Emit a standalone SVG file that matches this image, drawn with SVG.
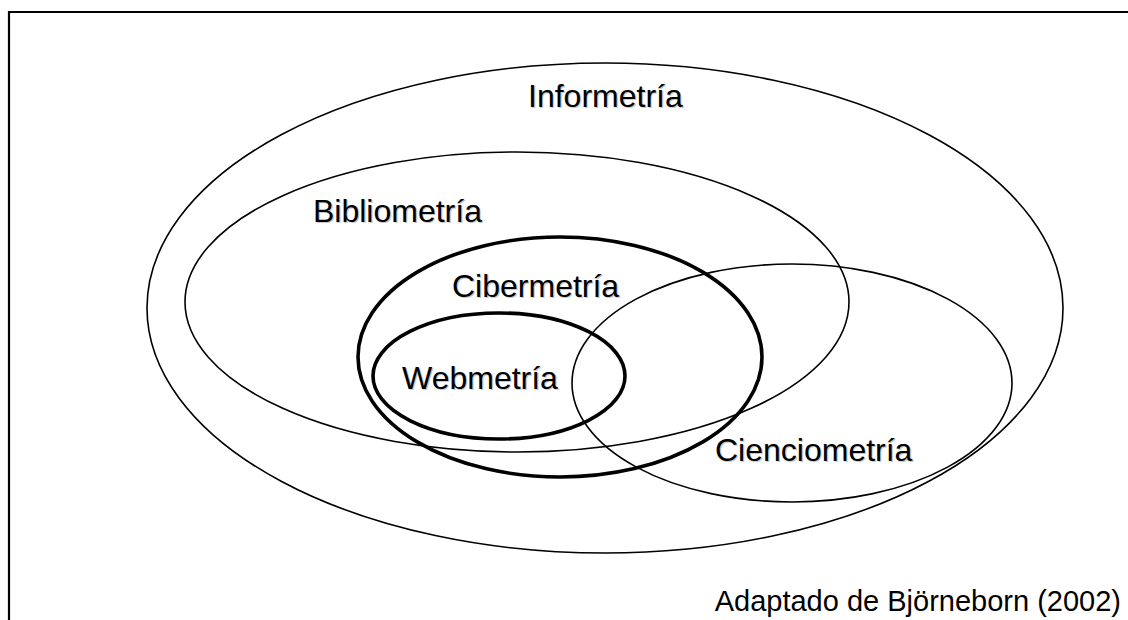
<svg xmlns="http://www.w3.org/2000/svg" width="1128" height="620" viewBox="0 0 1128 620">
<style>
.thin{fill:none;stroke:#000;stroke-width:1.6}
.thick{fill:none;stroke:#000;stroke-width:3.6}
.lbl{font-family:"Liberation Sans",Arial,sans-serif;font-size:32px;fill:#000}
.sh{font-family:"Liberation Sans",Arial,sans-serif;font-size:32px;fill:#c8c8c8}
.src{font-family:"Liberation Sans",Arial,sans-serif;font-size:29px;fill:#000}
</style>
<rect width="1128" height="620" fill="#fff"/>
<path d="M9 620 V12 H1128" fill="none" stroke="#000" stroke-width="2.2"/>
<g id="informetria">
<ellipse class="thin" cx="605" cy="308" rx="458" ry="245"/>
<text class="sh" x="529.2" y="108.2">Informetría</text>
<text class="lbl" x="528" y="107">Informetría</text>
</g>
<g id="bibliometria">
<ellipse class="thin" cx="517" cy="302" rx="332" ry="150"/>
<text class="sh" x="314.2" y="223.2">Bibliometría</text>
<text class="lbl" x="313" y="222">Bibliometría</text>
</g>
<g id="cienciometria">
<ellipse class="thin" cx="792" cy="383" rx="220" ry="119"/>
<text class="sh" x="716.2" y="462.2">Cienciometría</text>
<text class="lbl" x="715" y="461">Cienciometría</text>
</g>
<g id="cibermetria">
<ellipse class="thick" cx="560" cy="357" rx="202" ry="120"/>
<text class="sh" x="453.2" y="298.2">Cibermetría</text>
<text class="lbl" x="452" y="297">Cibermetría</text>
</g>
<g id="webmetria">
<ellipse class="thick" cx="499" cy="376" rx="126" ry="63"/>
<text class="sh" x="403.2" y="390.2">Webmetría</text>
<text class="lbl" x="402" y="389">Webmetría</text>
</g>
<g id="fuente">
<text class="src" x="1121" y="611" text-anchor="end">Adaptado de Björneborn (2002)</text>
</g>
</svg>
